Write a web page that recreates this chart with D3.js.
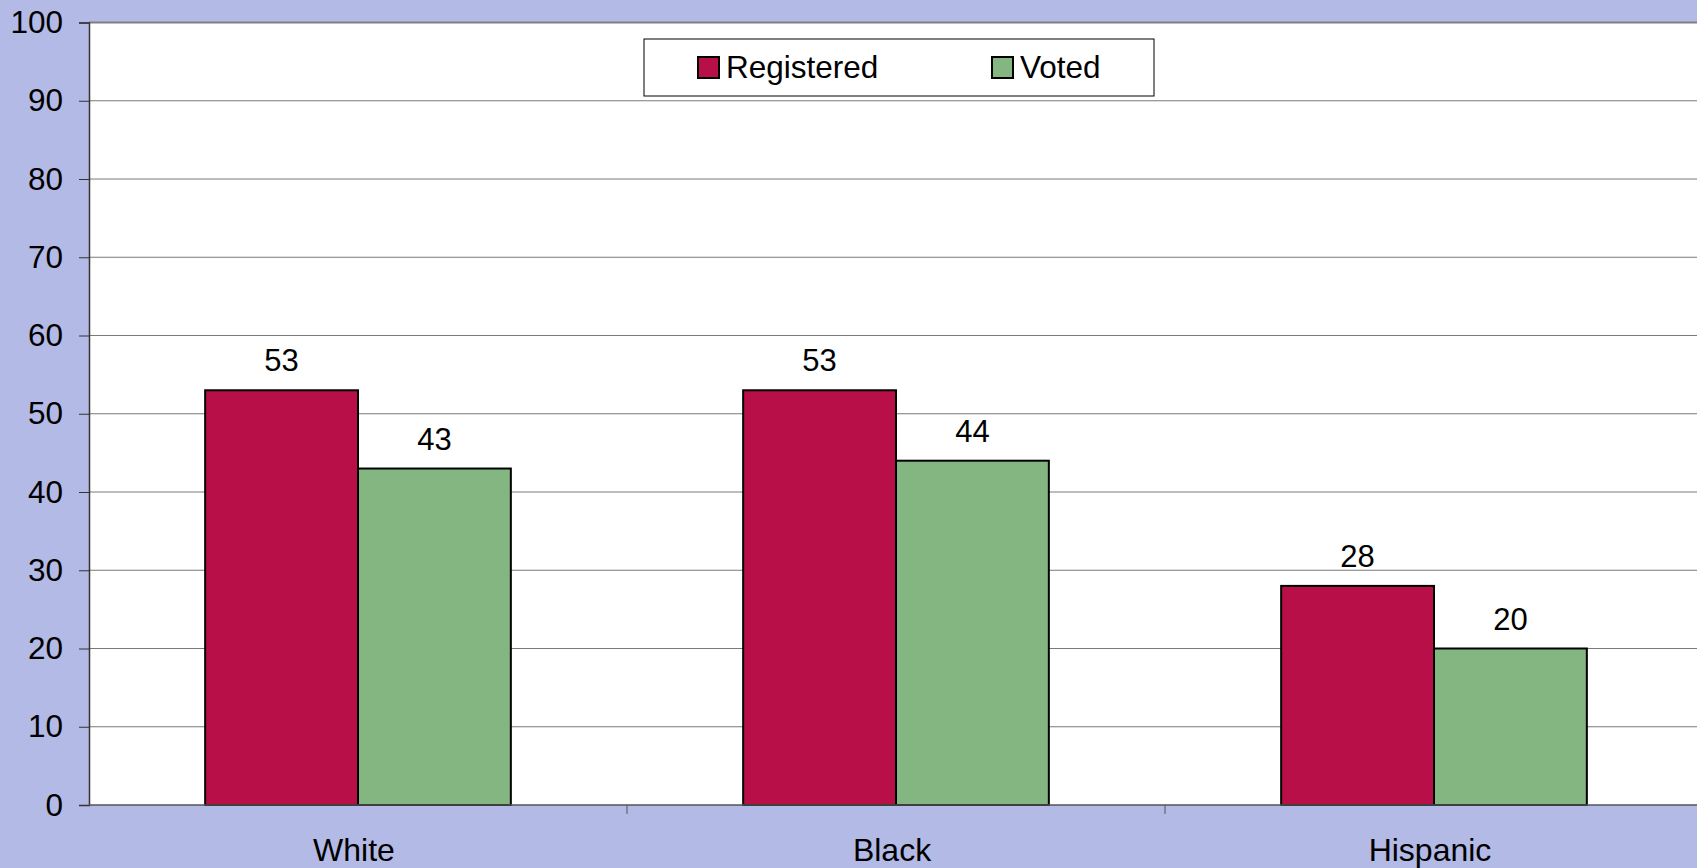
<!DOCTYPE html>
<html>
<head>
<meta charset="utf-8">
<script src="https://cdn.jsdelivr.net/npm/d3@7"></script>
<style>
  html, body { margin: 0; padding: 0; background: #b3bae5; overflow: hidden; }
</style>
</head>
<body>
<script>
// chart data
var categories = ['White', 'Black', 'Hispanic'];
var seriesNames = ['Registered', 'Voted'];
var registered = [53, 53, 28];
var voted = [43, 44, 20];
var yTicks = [0, 10, 20, 30, 40, 50, 60, 70, 80, 90, 100];

var width = 1697,
    height = 868;
var plotLeft = 89, plotTop = 22.5, plotBottom = 805,
    bandW = 538;
var colors = {Registered: '#b90f48', Voted: '#84b682'};

var svg = d3.select('body').append('svg')
    .attr('width', width)
    .attr('height', height)
    .style('font-family', 'Arial, "Liberation Sans", sans-serif');

var x = d3.scaleBand()
    .domain(categories)
    .range([plotLeft, plotLeft + bandW * categories.length])
    .paddingInner(0)
    .paddingOuter(0);

var xInner = d3.scaleBand()
    .domain(seriesNames)
    .range([0, bandW])
    .paddingOuter(0.76)
    .paddingInner(0);

var y = d3.scaleLinear()
    .domain([0, 100])
    .range([plotBottom, plotTop]);

// plot area
svg.append('rect')
    .attr('x', plotLeft).attr('y', plotTop)
    .attr('width', width - plotLeft + 10).attr('height', plotBottom - plotTop)
    .attr('fill', '#ffffff');

// gridlines
svg.append('g').selectAll('line').data(yTicks.filter(d => d > 0)).enter().append('line')
    .attr('x1', plotLeft).attr('x2', width)
    .attr('y1', d => y(d)).attr('y2', d => y(d))
    .attr('stroke', d => d === 100 ? '#808080' : '#7a7a7a')
    .attr('stroke-width', d => d === 100 ? 2 : 1);

// y axis
var yAxis = svg.append('g')
    .attr('transform', 'translate(' + plotLeft + ',0)')
    .call(d3.axisLeft(y).tickValues(yTicks).tickSize(10).tickPadding(16));
yAxis.select('.domain').attr('stroke', '#333').attr('stroke-width', 1.5);
yAxis.selectAll('.tick line').attr('stroke', '#333');
yAxis.selectAll('text').attr('font-size', 31.5).attr('fill', '#000')
    .attr('font-family', 'Arial, "Liberation Sans", sans-serif');

// bars
var rows = categories.map((c, i) => ({cat: c, Registered: registered[i], Voted: voted[i]}));
var groups = svg.append('g').selectAll('g').data(rows).enter().append('g')
    .attr('transform', d => 'translate(' + x(d.cat) + ',0)');

groups.selectAll('rect').data(d => seriesNames.map(s => ({key: s, value: d[s]}))).enter().append('rect')
    .attr('x', d => xInner(d.key))
    .attr('y', d => y(d.value))
    .attr('width', xInner.bandwidth())
    .attr('height', d => plotBottom - y(d.value))
    .attr('fill', d => colors[d.key])
    .attr('stroke', '#000')
    .attr('stroke-width', 2);

groups.selectAll('text').data(d => seriesNames.map(s => ({key: s, value: d[s]}))).enter().append('text')
    .attr('x', d => xInner(d.key) + xInner.bandwidth() / 2)
    .attr('y', d => y(d.value) - 19)
    .attr('text-anchor', 'middle')
    .attr('font-size', 31)
    .attr('fill', '#000')
    .text(d => d.value);

// x axis
var xAxis = svg.append('g')
    .attr('transform', 'translate(0,' + plotBottom + ')')
    .call(d3.axisBottom(x).tickSize(0).tickPadding(33));
xAxis.select('.domain').remove();
xAxis.selectAll('text').attr('font-size', 32).attr('fill', '#000')
    .attr('dx', -4)
    .attr('font-family', 'Arial, "Liberation Sans", sans-serif');
svg.append('line')
    .attr('x1', plotLeft).attr('x2', width)
    .attr('y1', plotBottom).attr('y2', plotBottom)
    .attr('stroke', '#555').attr('stroke-width', 1.5);
svg.append('g').selectAll('line').data(categories.slice(1)).enter().append('line')
    .attr('x1', d => x(d)).attr('x2', d => x(d))
    .attr('y1', plotBottom).attr('y2', plotBottom + 9)
    .attr('stroke', '#555');

// legend
var legend = svg.append('g').attr('transform', 'translate(644,39)');
legend.append('rect')
    .attr('width', 510).attr('height', 57)
    .attr('fill', '#fff').attr('stroke', '#000').attr('stroke-width', 1);
var legendX = d3.scaleOrdinal().domain(seriesNames).range([54, 348]);
var items = legend.selectAll('.item').data(seriesNames).enter().append('g')
    .attr('transform', d => 'translate(' + legendX(d) + ',18)');
items.append('rect')
    .attr('width', 21).attr('height', 21)
    .attr('fill', d => colors[d])
    .attr('stroke', '#000').attr('stroke-width', 2);
items.append('text')
    .attr('x', 28).attr('y', 21)
    .attr('font-size', 31.5)
    .attr('fill', '#000')
    .text(d => d);
</script>
</body>
</html>
